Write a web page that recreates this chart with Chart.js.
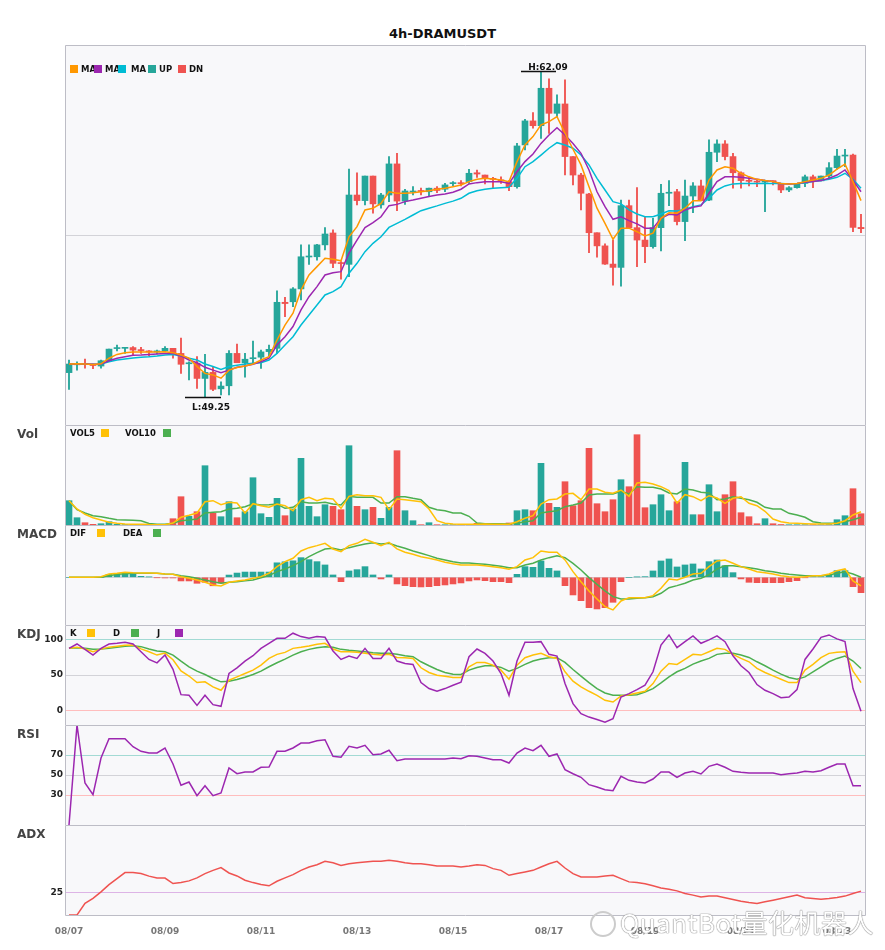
<!DOCTYPE html>
<html><head><meta charset="utf-8">
<script src="https://cdn.jsdelivr.net/npm/chart.js@4.4.1/dist/chart.umd.min.js"></script>
<style>
body{margin:0;background:#fff;width:885px;height:950px;overflow:hidden;position:relative;font-family:"DejaVu Sans",sans-serif}
canvas{position:absolute;left:0}
#title{position:absolute;left:0;top:26px;width:885px;text-align:center;font:bold 13px "DejaVu Sans";line-height:16px;color:#111}
#wm{position:absolute;left:620px;top:903px;font:26px "Noto Sans CJK SC";letter-spacing:0.5px;color:#fff;text-shadow:0 0 1px #888,0 0 1px #888,0 0 1px #999;z-index:5;white-space:nowrap}
#wmi{position:absolute;left:590px;top:911px;width:22px;height:22px;border:2px solid #ccc;border-radius:50%;z-index:5}
</style></head><body>
<div id="title">4h-DRAMUSDT</div>
<div id="wmi"></div><div id="wm">QuantBot量化机器人</div>
<script>
// ---------- data ----------
const categories = ['08/07 00:00','08/07 04:00','08/07 08:00','08/07 12:00','08/07 16:00','08/07 20:00','08/08 00:00','08/08 04:00','08/08 08:00','08/08 12:00','08/08 16:00','08/08 20:00','08/09 00:00','08/09 04:00','08/09 08:00','08/09 12:00','08/09 16:00','08/09 20:00','08/10 00:00','08/10 04:00','08/10 08:00','08/10 12:00','08/10 16:00','08/10 20:00','08/11 00:00','08/11 04:00','08/11 08:00','08/11 12:00','08/11 16:00','08/11 20:00','08/12 00:00','08/12 04:00','08/12 08:00','08/12 12:00','08/12 16:00','08/12 20:00','08/13 00:00','08/13 04:00','08/13 08:00','08/13 12:00','08/13 16:00','08/13 20:00','08/14 00:00','08/14 04:00','08/14 08:00','08/14 12:00','08/14 16:00','08/14 20:00','08/15 00:00','08/15 04:00','08/15 08:00','08/15 12:00','08/15 16:00','08/15 20:00','08/16 00:00','08/16 04:00','08/16 08:00','08/16 12:00','08/16 16:00','08/16 20:00','08/17 00:00','08/17 04:00','08/17 08:00','08/17 12:00','08/17 16:00','08/17 20:00','08/18 00:00','08/18 04:00','08/18 08:00','08/18 12:00','08/18 16:00','08/18 20:00','08/19 00:00','08/19 04:00','08/19 08:00','08/19 12:00','08/19 16:00','08/19 20:00','08/20 00:00','08/20 04:00','08/20 08:00','08/20 12:00','08/20 16:00','08/20 20:00','08/21 00:00','08/21 04:00','08/21 08:00','08/21 12:00','08/21 16:00','08/21 20:00','08/22 00:00','08/22 04:00','08/22 08:00','08/22 12:00','08/22 16:00','08/22 20:00','08/23 00:00','08/23 04:00','08/23 08:00','08/23 12:00'];
const tickLabels = ['08/07','08/09','08/11','08/13','08/15','08/17','08/19','08/21','08/23'];

const opens = [50.21,50.52,50.57,50.53,50.47,50.68,51.16,51.17,51.20,51.12, 51.05,51.03,51.07,51.17,50.97,50.56,50.58,49.98,50.22,49.57, 49.69,50.97,50.60,50.76,50.82,51.04,51.17,52.99,53.01,53.52, 54.78,54.79,55.26,55.73,54.56,54.49,57.23,57.01,57.98,56.84, 57.23,58.46,56.99,57.35,57.40,57.36,57.50,57.46,57.68,57.70, 57.76,58.11,58.02,57.87,57.82,57.76,57.56,59.21,60.16,59.97, 61.45,60.46,60.83,58.75,58.02,57.27,55.74,55.22,54.50,54.37, 56.81,55.94,55.45,55.19,55.94,57.30,57.36,56.18,57.19,57.59, 57.03,58.92,59.25,58.75,58.11,57.81,57.77,57.74,57.79,57.69, 57.43,57.52,57.69,57.95,57.79,57.98,58.31,58.77,58.81,55.95];
const highs = [50.71,50.64,50.75,50.55,50.71,51.14,51.30,51.20,51.24,51.21, 51.08,51.10,51.24,51.17,51.58,50.64,50.84,50.93,50.44,49.85, 51.08,51.34,50.97,51.46,51.10,51.30,53.44,53.19,53.57,55.26, 55.26,55.28,55.94,55.85,54.60,58.26,58.11,57.98,57.98,57.30, 58.75,58.88,57.46,57.56,57.50,57.50,57.56,57.69,57.76,57.80, 58.25,58.22,58.02,57.93,57.95,57.80,59.27,60.22,60.49,62.09, 61.82,61.19,61.78,58.75,58.09,57.30,55.74,55.30,55.45,57.03, 57.03,57.52,56.37,56.31,57.65,57.80,57.46,57.82,57.72,57.82, 59.41,59.41,59.38,58.88,58.15,57.95,57.85,57.82,57.79,57.69, 57.56,57.69,58.02,58.02,57.98,58.51,59.04,59.04,58.85,56.47];
const lows = [49.55,50.31,50.39,50.37,50.39,50.64,51.07,50.97,50.91,50.97, 50.87,50.95,51.04,50.78,50.18,49.92,49.59,49.25,49.50,49.33, 49.33,50.60,50.03,50.55,50.38,50.87,50.97,52.42,52.82,53.08, 54.49,54.66,55.06,54.36,53.90,54.00,56.84,56.84,56.51,56.71, 56.97,56.61,56.86,57.23,57.23,57.17,57.32,57.36,57.59,57.59, 57.69,57.93,57.67,57.52,57.69,57.40,57.50,59.01,59.87,59.47, 59.67,60.33,58.02,57.63,56.64,54.95,54.77,54.49,53.67,53.63, 55.91,54.40,54.56,55.13,55.02,56.81,56.05,55.43,56.53,57.01, 57.01,58.55,58.62,57.50,57.50,57.59,57.56,56.57,57.63,57.32, 57.36,57.50,57.56,57.52,57.79,57.89,58.25,58.35,55.78,55.74];
const closes = [50.55,50.57,50.53,50.49,50.68,51.14,51.18,51.19,51.10,51.08, 51.03,51.05,51.17,50.97,50.54,50.59,49.98,50.22,49.55,49.68, 50.97,50.60,50.74,50.79,51.03,51.13,52.99,52.94,53.52,54.79, 54.82,55.26,55.69,54.53,54.52,57.23,57.01,57.98,56.88,57.23, 58.46,56.99,57.39,57.37,57.37,57.50,57.41,57.63,57.70,57.68, 58.09,58.06,57.89,57.85,57.79,57.56,59.17,60.16,59.97,61.45, 60.46,60.83,58.75,58.02,57.30,55.74,55.22,54.50,54.37,56.81, 55.94,55.45,55.19,55.94,57.30,57.34,56.18,57.19,57.59,57.01, 58.92,59.25,58.75,58.11,57.80,57.77,57.74,57.77,57.76,57.43, 57.52,57.69,57.95,57.79,57.98,58.31,58.77,58.81,55.95,55.90];

const ma5 = [50.55,50.56,50.55,50.53,50.56,50.78,50.93,51.0,51.03,51.03, 51.03,51.03,51.04,51.0,50.91,50.78,50.45,50.18,50.12,49.99, 50.31,50.41,50.47,50.55,50.71,50.84,51.5,52.09,52.56,53.47, 54.07,54.4,54.73,54.69,54.63,55.58,55.98,56.64,56.71,56.9, 57.36,57.3,57.3,57.32,57.36,57.4,57.46,57.5,57.56,57.63, 57.76,57.85,57.89,57.86,57.82,57.76,58.55,59.21,59.54,60.0, 60.13,60.33,59.67,59.04,58.42,57.56,56.71,56.11,55.48,55.92, 55.92,55.78,55.61,55.72,56.31,56.53,56.51,56.71,57.0,57.0, 57.82,58.22,58.35,58.29,58.09,57.95,57.85,57.8,57.76,57.69, 57.67,57.69,57.76,57.82,57.89,58.02,58.25,58.45,57.76,57.01];
const ma10 = [50.55,50.55,50.55,50.54,50.55,50.68,50.78,50.84,50.9,50.91, 50.93,50.95,50.97,50.97,50.87,50.71,50.6,50.42,50.31,50.21, 50.31,50.42,50.47,50.54,50.64,50.78,51.3,51.63,52.03,52.69, 53.21,53.61,54.07,54.16,54.2,54.93,55.45,55.94,56.14,56.37, 56.81,56.86,56.97,57.03,57.1,57.17,57.23,57.27,57.34,57.46, 57.67,57.72,57.75,57.75,57.75,57.69,58.15,58.55,58.85,59.27, 59.6,59.89,59.6,59.27,58.88,58.22,57.36,56.77,56.27,56.37, 56.22,56.09,55.92,55.92,56.31,56.47,56.44,56.64,56.75,56.8, 57.3,57.76,57.95,57.95,57.93,57.89,57.85,57.8,57.76,57.69, 57.67,57.69,57.73,57.76,57.8,57.89,58.02,58.22,57.82,57.36];
const ma20 = [50.55,50.55,50.55,50.54,50.55,50.64,50.71,50.75,50.79,50.82, 50.84,50.87,50.91,50.93,50.87,50.78,50.71,50.55,50.45,50.34, 50.45,50.5,50.55,50.58,50.6,50.71,50.97,51.3,51.63,52.09, 52.49,52.88,53.28,53.41,53.61,54.14,54.53,54.99,55.32,55.58, 55.95,56.11,56.27,56.44,56.61,56.71,56.8,56.9,56.99,57.1, 57.3,57.4,57.46,57.5,57.52,57.54,57.89,58.35,58.55,58.81, 59.08,59.3,59.21,59.08,58.81,58.42,57.89,57.43,56.97,56.88, 56.64,56.48,56.37,56.37,56.48,56.61,56.6,56.67,56.77,56.84, 57.1,57.43,57.59,57.67,57.69,57.69,57.69,57.69,57.69,57.69, 57.67,57.69,57.72,57.76,57.8,57.85,57.93,58.09,57.85,57.5];

const volumes = [24.3,7.3,2.3,0.7,1.3,3.3,0.7,0.4,0.6,0.4, 0.3,0.2,0.3,6.3,28.3,8.7,13.3,59.3,11.7,8.3, 23.3,7.3,13.3,47.3,11.3,7.7,26.7,9.3,16,66.7, 18.7,8.3,20.3,18.7,15.3,79.3,18.7,15.3,17.7,6.7, 17.7,74.3,14.3,4.3,0.3,2.3,0.3,0.3,0.3,0.3, 0.3,1.7,0.5,0.3,0.5,2,14.3,15.3,14.3,61.7, 21.7,17.7,43.3,19.3,24.3,76.7,21.3,13.3,25.3,45.3, 38.3,90.3,17.3,20.3,30.3,14.3,23.3,62.7,10.3,10.3, 40.3,13.3,30.3,43.3,12.3,8.3,1.3,6.3,1.3,0.5, 0.3,0.3,0.3,0.3,0.3,0.5,5.3,9.3,36.3,11.3];
const vol5 = [24.3,16,10.7,7.3,5,2.7,1.7,1,0.7,0.7, 0.4,0.3,0.3,2,7.7,9.7,12,23.3,24.3,20.3, 22.7,22,12,21.3,19.3,17.7,21,19.3,14.3,25.3, 27.7,24.3,26.7,26,16.7,28.7,30.3,29.3,29.3,27.7, 15.3,26,25.3,24.3,23.3,16,4.3,1.7,1,0.7, 0.7,0.7,1,0.7,0.7,0.7,3.3,6.7,9.3,21, 25.3,26,31,31.7,25.3,36,36,32.7,31.7,35, 28.7,42,42.7,41,38.3,34.3,22,30.3,28.3,24.3, 29.3,27,21.7,26.7,28.3,21.7,19.3,13.7,6,3.3, 2,1.7,1.3,1,1,1,1.7,4.3,10,13.3];
const vol10 = [24.3,15.3,12,9.3,8.3,6.7,5.3,5,4.7,4.3, 1.5,0.8,0.7,1.7,4.3,5,6,12,12.7,13.3, 16,16.7,18.3,21.3,20,20.3,21,16.7,17.7,23.3, 22,22,22.7,21,20,28.7,27.7,27.7,27.7,22, 22,28.3,28.3,26.7,25.3,17.7,15.3,14.3,12,12, 8.7,2,1.3,1.3,1.3,1,1.7,3.3,4.3,12, 13.3,14.3,18.3,20,22,30,31,31,31,33.7, 31,38.3,37.7,37.7,36,32,31,36,35,32.7, 32,25.3,26,28.3,26.7,25.3,22.7,17.7,16,16, 11.7,10,7.7,3.3,2,1.7,1.7,3.3,5.3,7.7];

const dif = [0,0,0,0,0.01,0.067,0.08,0.1,0.09,0.085, 0.087,0.08,0.067,0.06,0.013,-0.02,-0.053,-0.1,-0.153,-0.173, -0.1,-0.073,-0.053,-0.02,0.013,0.08,0.213,0.313,0.38,0.527, 0.593,0.633,0.68,0.567,0.513,0.633,0.68,0.76,0.7,0.633, 0.7,0.567,0.5,0.46,0.413,0.38,0.347,0.3,0.273,0.247, 0.247,0.247,0.233,0.213,0.193,0.16,0.213,0.347,0.393,0.527, 0.5,0.5,0.347,0.113,-0.087,-0.273,-0.433,-0.587,-0.653,-0.473, -0.407,-0.407,-0.407,-0.367,-0.22,-0.033,-0.053,0,0.067,0.08, 0.213,0.327,0.347,0.28,0.213,0.167,0.113,0.093,0.067,0.033, 0.013,0,0.013,0.033,0.033,0.067,0.133,0.167,-0.073,-0.173];
const dea = [0,0,0,0,0,0.033,0.06,0.073,0.08,0.08, 0.08,0.08,0.067,0.06,0.033,0.013,-0.02,-0.053,-0.087,-0.12, -0.1,-0.087,-0.067,-0.053,-0.01,0.033,0.113,0.167,0.233,0.313, 0.413,0.493,0.567,0.58,0.547,0.593,0.633,0.667,0.693,0.667, 0.68,0.627,0.58,0.527,0.48,0.433,0.38,0.347,0.313,0.287, 0.287,0.273,0.26,0.24,0.22,0.193,0.193,0.247,0.28,0.347, 0.393,0.433,0.393,0.28,0.147,-0.007,-0.14,-0.273,-0.387,-0.433, -0.433,-0.42,-0.407,-0.387,-0.32,-0.207,-0.167,-0.12,-0.053,-0.02, 0.047,0.167,0.233,0.233,0.213,0.193,0.167,0.133,0.113,0.08, 0.06,0.047,0.033,0.033,0.033,0.047,0.08,0.113,0.067,0];
const macdHist = [0,0,0,0,0,0.06,0.073,0.093,0.073,0.02, 0.007,-0.007,-0.013,-0.013,-0.073,-0.073,-0.12,-0.1,-0.17,-0.113, 0.045,0.085,0.105,0.105,0.105,0.105,0.29,0.31,0.33,0.393, 0.353,0.313,0.247,0.047,-0.087,0.127,0.153,0.213,0.047,-0.033, 0.047,-0.133,-0.167,-0.187,-0.193,-0.187,-0.167,-0.153,-0.133,-0.113, -0.073,-0.053,-0.067,-0.087,-0.087,-0.107,0.06,0.213,0.2,0.327, 0.18,0.127,-0.167,-0.353,-0.467,-0.607,-0.633,-0.607,-0.5,-0.087, 0,0.007,0.013,0.127,0.327,0.367,0.207,0.247,0.267,0.167, 0.313,0.347,0.233,0.093,-0.033,-0.1,-0.107,-0.107,-0.107,-0.107, -0.087,-0.067,-0.007,0.013,0.013,0.047,0.133,0.133,-0.187,-0.307];

const kVals = [87.5,89,86.4,82.6,86.2,89,90.2,91.5,92,86.6, 82.6,77.9,80.7,71.3,55.6,48.6,39.4,40.4,33.3,28.6, 42.7,47.4,52.1,56.8,63.8,73.2,78.9,81.7,87.3,88.7, 90.6,93,94.4,86.4,82.6,82.6,81.7,80.3,78.9,77.9, 78.9,74.6,74.2,73.2,60.1,53.5,49.8,48.4,46.5,46.5, 61.5,67.6,67.6,63.8,56.8,44.1,63.8,74.2,77.9,80.3, 75.6,73.2,54.5,41.3,33.3,27.2,21.6,14.6,12.2,20.7, 22.5,24.9,27.2,38,55.4,66.2,64.8,71.8,78.9,77.9, 82.6,87.3,85.9,78.9,73.2,68.5,59.2,53.5,48.8,44.1, 39.4,39.4,56.8,64.8,74.2,80.3,81.7,82.6,55.4,39.4];
const dVals = [87.5,88.3,87.3,85.9,86.4,87.3,88.7,90.1,91.1,89.7, 86.4,83.6,82.6,77.9,69.5,61.5,55.4,50.7,45.1,40.4, 41.3,43.7,46.9,50.7,55.4,61.5,67.1,72.3,77.9,82.6, 85.9,88.3,89.7,88.7,85.9,84.5,83.6,82.6,81.2,80.3, 80.3,78.9,77,75.6,68.5,62.9,57.7,53.5,51.2,50.7, 56.8,60.6,62.9,62.9,60.6,55.4,59.2,64.8,69.5,72.3, 74.2,74.2,67.6,57.7,48.4,39.4,31,24.9,21.6,21.6, 21.6,22.5,26.3,31,39,47.4,54.5,59.2,65.3,69.5, 73.2,78.9,80.3,80.3,77.9,74.6,68.5,62.9,56.8,51.2, 46.5,44.1,47.4,54.5,61.5,68.5,73.2,76.5,69.5,59.2];
const jVals = [87.3,93.4,85.9,77.9,87.3,93.4,94.4,95.8,93.4,82.5, 71.8,67,77.9,58,22.5,21.6,7.5,21.6,8.5,6.1, 52.1,60.1,69.5,77,87.3,94.4,101.4,101.4,108.5,103.8, 101.4,103.8,102.8,83.6,71.8,76.5,73.2,87.3,73.2,73.2, 87.3,69.5,66.2,64.8,39.4,31,27.2,31,35.7,40, 75.6,86.4,80.3,69.5,52.1,21.6,69.5,95.8,95.8,96.7, 78.9,76.5,38,9.9,-4.2,-8.9,-12.2,-16,-11.3,19.2, 23.9,29.6,35.7,54.5,92,106.1,88.3,96.7,104.7,94.4, 99.1,104.7,96.7,77,62.9,53.5,36.6,28.6,23.9,18.3, 19.2,29.6,71.8,86.4,102.8,106.1,100.5,96.7,31,-0.9];

const rsiVals = [0,100,42,30.3,67,86.3,86.3,86.3,78.3,73.7, 72,72,77,61,39.7,43,29.3,39.3,29.3,32, 57,51.3,53,53,57.7,58,73.7,73.7,77,82, 82,84.3,85.3,68.7,67.7,78.7,77,79.7,70.3,71, 74.7,64.3,66,66,66,66,66,66,67,66.3, 69.3,68.7,67,65.3,65.3,62,72,77,74.3,79.7, 68.7,71,55.3,51.3,47.7,40.3,38,35.3,34.3,48.7, 44.7,43,42,46,53,53,47.7,52,53.7,51, 58.7,61,57.7,53.7,52.7,52,52,52,52,50.3, 51.3,52,53.7,53,54.3,57.7,61,61,39.3,39.3];
const adxVals = [0,0,12.9,18.4,25.7,33.8,40.4,47.1,47.1,46, 43.2,41.2,41.1,35,36,37.9,41.2,46,49.6,52.6, 46.7,43.4,38.6,36,33.8,32.4,37.5,41.2,44.9,49.6, 53.3,55.9,59.6,58.1,55.1,57,58.1,58.8,59.6,59.6, 60.7,59.6,58.1,57,57,55.9,54.4,54.4,54.4,53.3, 54.4,55.9,55.1,51.5,49.6,44.1,46,47.8,49.6,53.3, 57,59.6,52.2,46,42.3,42.3,42.3,43.4,44.1,40.4, 36.8,36,34.6,32.4,30.1,28.7,26.8,23.9,22.1,19.9, 21,21,19.1,17.3,15.4,14,12.9,14.7,16.5,18.4, 20.2,22.1,19.1,18.4,17.6,18.4,19.5,21,23.9,26.5];

// ---------- styling ----------
const UP = '#26A69A', DN = '#EF5350';
const C_MA5 = '#FF9800', C_MA10 = '#9C27B0', C_MA20 = '#00BCD4';
const C_Y = '#FFC107', C_G = '#4CAF50', C_P = '#9C27B0', C_ADX = '#EF5350';
const REF_TEAL = '#A3DAD4', REF_GRAY = '#D3D3D8', REF_PINK = '#FFBDBD', REF_PURP = '#DDB4E6';
Chart.defaults.font.family = '"DejaVu Sans", sans-serif';

const candleColors = closes.map((c, i) => c >= opens[i] ? UP : DN);
const histColors = macdHist.map(v => v >= 0 ? UP : DN);

function mkCanvas(top, h) {
  const c = document.createElement('canvas');
  c.width = 885; c.height = h;
  c.style.top = top + 'px'; c.style.width = '885px'; c.style.height = h + 'px';
  document.body.appendChild(c);
  return c;
}

const panelPlugin = {
  id: 'panel',
  beforeDraw(chart) {
    const {ctx, chartArea: a} = chart;
    ctx.save();
    ctx.fillStyle = '#F8F8FA';
    ctx.fillRect(a.left, a.top, a.right - a.left, a.bottom - a.top);
    ctx.restore();
  },
  afterDraw(chart, args, o) {
    const {ctx, chartArea: a} = chart;
    ctx.save();
    ctx.strokeStyle = '#BDBDC6'; ctx.lineWidth = 1;
    const L = Math.round(a.left) + 0.5, R = Math.round(a.right) + 0.5, T = Math.round(a.top) + 0.5, B = Math.round(a.bottom) + 0.5;
    ctx.beginPath();
    ctx.moveTo(L, B); ctx.lineTo(L, T); ctx.lineTo(R, T); ctx.lineTo(R, B);
    if (o.bottom) ctx.lineTo(L, B);
    ctx.stroke();
    if (o.name) {
      ctx.font = 'bold 12px "DejaVu Sans"'; ctx.fillStyle = '#444';
      ctx.textBaseline = 'middle'; ctx.textAlign = 'left';
      ctx.fillText(o.name, 17, a.top + 10);
    }
    if (o.legend) {
      ctx.font = 'bold 8.5px "DejaVu Sans"'; ctx.textBaseline = 'middle'; ctx.textAlign = 'left';
      const cy = a.top + o.legendY;
      o.legend.forEach(it => {
        if (it.color) { ctx.fillStyle = it.color; ctx.fillRect(it.x, Math.round(cy) - 4, 8, 8); }
        else { ctx.fillStyle = '#111'; ctx.fillText(it.text, it.x, cy + 0.5); }
      });
    }
    ctx.restore();
  }
};

const hlPlugin = {
  id: 'hl',
  afterDatasetsDraw(chart) {
    const {ctx, scales: {x, y}} = chart;
    let hi = 0, lo = 0;
    highs.forEach((v, i) => { if (v > highs[hi]) hi = i; });
    lows.forEach((v, i) => { if (v < lows[lo]) lo = i; });
    ctx.save();
    ctx.strokeStyle = '#111'; ctx.fillStyle = '#111'; ctx.lineWidth = 1.3;
    ctx.font = 'bold 9px "DejaVu Sans"'; ctx.textAlign = 'center'; ctx.textBaseline = 'alphabetic';
    const hx = x.getPixelForValue(hi), hy = Math.round(y.getPixelForValue(highs[hi])) - 0.5;
    ctx.beginPath(); ctx.moveTo(hx - 20, hy); ctx.lineTo(hx + 15, hy); ctx.stroke();
    ctx.fillText('H:' + highs[hi].toFixed(2), hx + 7, hy - 2);
    const lx = x.getPixelForValue(lo), ly = Math.round(y.getPixelForValue(lows[lo])) + 0.5;
    ctx.beginPath(); ctx.moveTo(lx - 20, ly); ctx.lineTo(lx + 16, ly); ctx.stroke();
    ctx.fillText('L:' + lows[lo].toFixed(2), lx + 6, ly + 12);
    ctx.restore();
  }
};

function lineDs(data, color, order) {
  return {type: 'line', data, borderColor: color, backgroundColor: color, borderWidth: 1.5,
          pointRadius: 0, tension: 0, fill: false, order: order || 0};
}

function yAxis(min, max, tickVals, showLabels, colorMap) {
  return {
    min, max,
    afterFit(s) { s.width = 65; s.paddingTop = 0; s.paddingBottom = 0; },
    afterBuildTicks(s) { s.ticks = tickVals.map(v => ({value: v})); },
    border: {display: false},
    grid: {drawTicks: false, lineWidth: 1,
           color: c => (c.tick && colorMap[c.tick.value]) || REF_GRAY},
    ticks: {display: showLabels, padding: 2, color: '#222',
            font: {size: 9, weight: 'bold'},
            callback: v => String(v)}
  };
}

function makeChart(top, h, datasets, y, panelOpts, extraPlugins, xDisplay) {
  const xAxis = xDisplay ? {
    display: true, offset: true,
    grid: {display: false}, border: {display: false},
    afterFit(s) { s.height = 20; s.paddingLeft = 0; s.paddingRight = 0; },
    ticks: {autoSkip: false, maxRotation: 0, minRotation: 0, padding: 3, color: '#777',
            font: {size: 9, weight: 'bold'},
            callback(v, i) {
              const c = categories[i];
              return (c.slice(6) === '00:00' && tickLabels.includes(c.slice(0, 5))) ? c.slice(0, 5) : null;
            }}
  } : {display: false, offset: true};
  return new Chart(mkCanvas(top, h), {
    type: 'bar',
    data: {labels: categories, datasets},
    options: {
      responsive: false, animation: false, events: [],
      layout: {padding: {left: 0, right: 20, top: 0, bottom: 0}},
      plugins: {legend: {display: false}, tooltip: {enabled: false}, panel: panelOpts},
      scales: {x: xAxis, y}
    },
    plugins: [panelPlugin].concat(extraPlugins || [])
  });
}

// ---------- main price panel ----------
const priceMin = 48.14, priceMax = 63.16;
makeChart(45, 380, [
  lineDs(ma5, C_MA5, 0), lineDs(ma10, C_MA10, 0), lineDs(ma20, C_MA20, 0),
  {type: 'bar', data: opens.map((o, i) => [Math.min(o, closes[i]), Math.max(o, closes[i])]),
   backgroundColor: candleColors, barThickness: 6, grouped: false, minBarLength: 1, order: 1},
  {type: 'bar', data: lows.map((l, i) => [l, highs[i]]),
   backgroundColor: candleColors, barThickness: 1.2, grouped: false, order: 2}
], yAxis(priceMin, priceMax, [(priceMin + priceMax) / 2], false, {}),
  {legendY: 24, legend: [
    {x: 70, color: C_MA5}, {x: 81, text: 'MA'}, {x: 94, color: C_MA10}, {x: 105, text: 'MA'},
    {x: 118, color: C_MA20}, {x: 131, text: 'MA'}, {x: 148, color: UP}, {x: 159, text: 'UP'},
    {x: 178, color: DN}, {x: 189, text: 'DN'}]}, [hlPlugin], false);

// ---------- volume ----------
makeChart(425, 100, [
  lineDs(vol5, C_Y, 0), lineDs(vol10, C_G, 0),
  {type: 'bar', data: volumes, backgroundColor: candleColors, barThickness: 6, grouped: false, order: 1}
], yAxis(0, 100, [], false, {}),
  {name: 'Vol', legendY: 8, legend: [
    {x: 70, text: 'VOL5'}, {x: 101, color: C_Y}, {x: 125, text: 'VOL10'}, {x: 163, color: C_G}]}, [], false);

// ---------- MACD ----------
makeChart(525, 100, [
  lineDs(dif, C_Y, 0), lineDs(dea, C_G, 0),
  {type: 'bar', data: macdHist, backgroundColor: histColors, barThickness: 6, grouped: false, order: 1}
], yAxis(-0.954, 1.046, [0], false, {0: REF_GRAY}),
  {name: 'MACD', legendY: 8, legend: [
    {x: 70, text: 'DIF'}, {x: 97, color: C_Y}, {x: 123, text: 'DEA'}, {x: 153, color: C_G}]}, [], false);

// ---------- KDJ ----------
makeChart(625, 100, [
  lineDs(jVals, C_P, 0), lineDs(kVals, C_Y, 1), lineDs(dVals, C_G, 2)
], yAxis(-20, 120, [0, 50, 100], true, {0: REF_PINK, 50: REF_GRAY, 100: REF_TEAL}),
  {name: 'KDJ', legendY: 8, legend: [
    {x: 70, text: 'K'}, {x: 87, color: C_Y}, {x: 113, text: 'D'}, {x: 131, color: C_G},
    {x: 157, text: 'J'}, {x: 175, color: C_P}]}, [], false);

// ---------- RSI ----------
makeChart(725, 100, [lineDs(rsiVals, C_P, 0)],
  yAxis(0, 100, [30, 50, 70], true, {30: REF_PINK, 50: REF_GRAY, 70: REF_TEAL}),
  {name: 'RSI'}, [], false);

// ---------- ADX ----------
makeChart(825, 110, [lineDs(adxVals, C_ADX, 0)],
  yAxis(0, 100, [25], true, {25: REF_PURP}),
  {name: 'ADX', bottom: true}, [], true);
</script>
</body></html>
